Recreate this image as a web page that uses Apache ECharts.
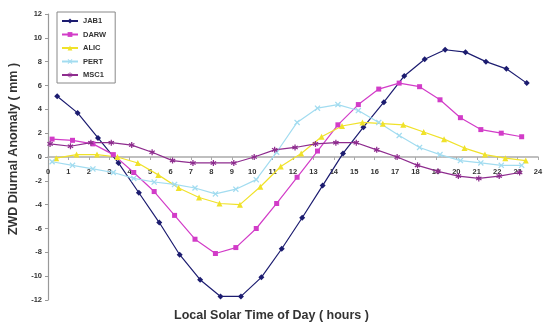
<!DOCTYPE html>
<html><head><meta charset="utf-8">
<script src="https://cdn.jsdelivr.net/npm/echarts@6/dist/echarts.min.js"></script>
<style>html,body{margin:0;padding:0;background:#fff}#c{width:544px;height:326px}</style>
</head><body><div id="c"></div>
<script>
// hour-of-day index (UT bin) and per-station local solar time shift (hours)
const hourBins = [0,1,2,3,4,5,6,7,8,9,10,11,12,13,14,15,16,17,18,19,20,21,22,23];
const seriesNames = ['JAB1','DARW','ALIC','PERT','MSC1'];
const solarShift = { JAB1: 0.45, DARW: 0.2, ALIC: 0.4, PERT: 0.2, MSC1: 0.1 };

const jab1 = [5.1, 3.7, 1.6, -0.5, -3.0, -5.5, -8.2, -10.3, -11.7, -11.7, -10.1, -7.7, -5.1, -2.4, 0.3, 2.5, 4.6, 6.8, 8.2, 9.0, 8.8, 8.0, 7.4, 6.2];
const darw = [1.5, 1.4, 1.1, 0.2, -1.3, -2.9, -4.9, -6.9, -8.1, -7.6, -6.0, -3.9, -1.7, 0.5, 2.7, 4.4, 5.7, 6.2, 5.9, 4.8, 3.3, 2.3, 2.0, 1.7];
const alic = [-0.1, 0.2, 0.2, 0.0, -0.5, -1.5, -2.6, -3.4, -3.9, -4.0, -2.5, -0.8, 0.3, 1.7, 2.6, 2.9, 2.8, 2.7, 2.1, 1.5, 0.75, 0.2, -0.1, -0.3];
const pert = [-0.4, -0.7, -1.0, -1.3, -1.8, -2.1, -2.3, -2.6, -3.1, -2.7, -1.9, 0.4, 2.9, 4.1, 4.4, 3.9, 2.9, 1.8, 0.8, 0.2, -0.3, -0.5, -0.7, -0.7];
const msc1 = [1.1, 0.9, 1.2, 1.2, 1.0, 0.4, -0.3, -0.5, -0.5, -0.5, 0.0, 0.6, 0.8, 1.1, 1.2, 1.2, 0.6, 0.0, -0.7, -1.2, -1.6, -1.8, -1.6, -1.3];

const xTickLabels = ['0','1','2','3','4','5','6','7','8','9','10','11','12','13','14','15','16','17','18','19','20','21','22','23','24'];
const yTickLabels = ['-12','-10','-8','-6','-4','-2','0','2','4','6','8','10','12'];

const colors = { JAB1: '#1c1c70', DARW: '#d23cc8', ALIC: '#f0e22a', PERT: '#a2dcf0', MSC1: '#8e2c8e' };
const xSym = 'path://M0,1.5L1.5,0L5,3.5L8.5,0L10,1.5L6.5,5L10,8.5L8.5,10L5,6.5L1.5,10L0,8.5L3.5,5Z';
const starSym = 'path://M4,0L6,0L6,3.2L8.8,1.6L9.8,3.3L7,5L9.8,6.7L8.8,8.4L6,6.8L6,10L4,10L4,6.8L1.2,8.4L0.2,6.7L3,5L0.2,3.3L1.2,1.6L4,3.2Z';
const symbols = { JAB1: 'diamond', DARW: 'rect', ALIC: 'triangle', PERT: xSym, MSC1: starSym };
const symSize = { JAB1: 6, DARW: 5, ALIC: 6, PERT: 6, MSC1: 6 };
const values = { JAB1: jab1, DARW: darw, ALIC: alic, PERT: pert, MSC1: msc1 };

const font = 'Liberation Sans, Arial, sans-serif';
const chart = echarts.init(document.getElementById('c'), null, { renderer: 'canvas' });

const series = seriesNames.map(n => ({
  name: n,
  type: 'line',
  data: hourBins.map((h, i) => [h + solarShift[n], values[n][i]]),
  symbol: symbols[n],
  symbolSize: symSize[n],
  showAllSymbol: true,
  lineStyle: { color: colors[n], width: 1.2 },
  itemStyle: { color: colors[n] },
  emphasis: { disabled: true },
  animation: false
}));

chart.setOption({
  animation: false,
  grid: { left: 48, right: 6, top: 14, bottom: 26, containLabel: false, outerBoundsMode: 'none' },
  legend: {
    orient: 'vertical', left: 57, top: 12,
    data: seriesNames,
    itemWidth: 16, itemHeight: 6, itemGap: 5.5,
    padding: [5, 9, 4, 4],
    borderColor: '#888', borderWidth: 1, backgroundColor: '#fff',
    textStyle: { fontFamily: font, fontSize: 7.5, fontWeight: 'bold', color: '#333' }
  },
  graphic: [{
    type: 'text', left: 174, top: 309,
    style: { text: 'Local Solar Time of Day ( hours )', font: 'bold 12.5px ' + font, fill: '#333' }
  }],
  xAxis: {
    type: 'value', min: 0, max: 24, interval: 1,
    axisLine: { onZero: true, lineStyle: { color: '#aaa', width: 1.5 } },
    axisTick: { show: true, length: 3, lineStyle: { color: '#aaa' } },
    axisLabel: { fontFamily: font, fontSize: 7.5, fontWeight: 'bold', color: '#333', margin: -132,
      formatter: v => xTickLabels[v] },
    splitLine: { show: false }
  },
  yAxis: {
    type: 'value', min: -12, max: 12, interval: 2,
    name: 'ZWD Diurnal Anomaly ( mm )',
    nameLocation: 'middle', nameGap: 28, nameRotate: 90,
    nameTextStyle: { fontFamily: font, fontSize: 12.5, fontWeight: 'bold', color: '#333', padding: [0, 0, 0, 16] },
    axisLine: { show: true, onZero: false, lineStyle: { color: '#999', width: 1.2 } },
    axisTick: { show: true, length: 3, lineStyle: { color: '#999' } },
    axisLabel: { fontFamily: font, fontSize: 7.5, fontWeight: 'bold', color: '#333', margin: 6,
      formatter: v => yTickLabels[(v + 12) / 2] },
    splitLine: { show: false }
  },
  series: series
});
</script>
</body></html>
